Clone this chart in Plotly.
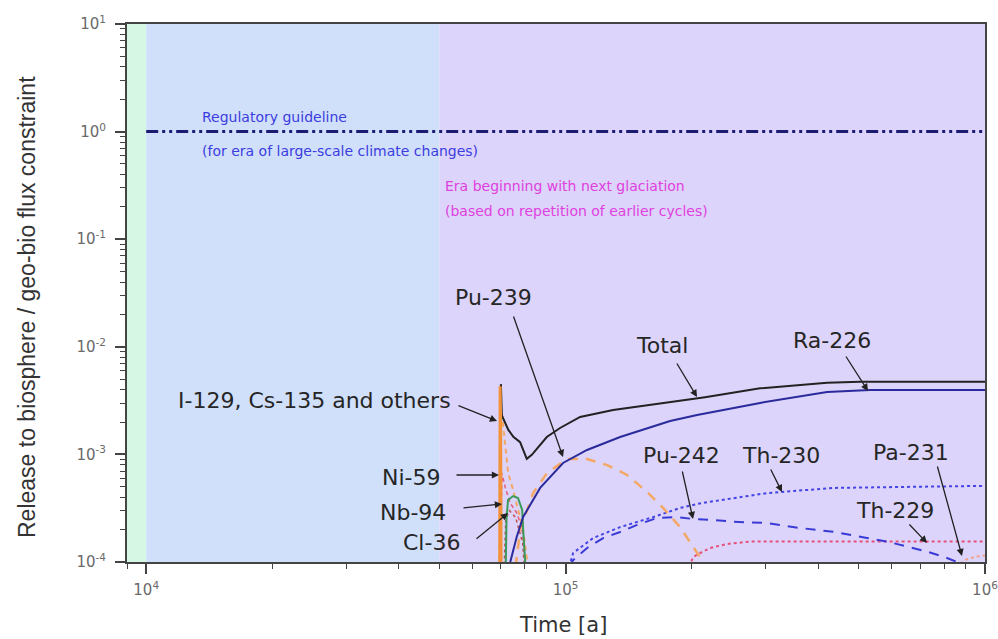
import numpy as np
import plotly.graph_objects as go

# ---------------- data (time in years, release / geo-bio flux constraint) ----------------
total_t = [70100, 70470, 73030, 75060, 77900, 80800, 83070, 86100, 90200, 97000,
           108300, 129800, 156400, 187500, 215000, 290900, 420200, 503500, 1000000]
total_v = [4.5e-3, 2.3e-3, 1.69e-3, 1.46e-3, 1.30e-3, 9.1e-4, 9.9e-4, 1.17e-3, 1.45e-3, 1.76e-3,
           2.23e-3, 2.59e-3, 2.88e-3, 3.15e-3, 3.4e-3, 4.11e-3, 4.63e-3, 4.74e-3, 4.74e-3]

ra226_t = [73800, 76450, 79200, 82300, 86960, 98600, 112500, 134900, 177500, 205800, 290900,
           420200, 532000, 1000000]
ra226_v = [1.0e-4, 1.71e-4, 2.62e-4, 3.39e-4, 4.88e-4, 8.32e-4, 1.10e-3, 1.45e-3, 2.04e-3, 2.32e-3,
           3.01e-3, 3.80e-3, 3.97e-3, 3.97e-3]

i129_t = [69600, 69800, 70000, 70200]
i129_v = [5e-5, 4.3e-3, 2.0e-3, 5e-5]

others_t = [70470, 71760, 72950, 74980, 79200, 80950, 81500]
others_v = [2.43e-3, 1.17e-3, 6.7e-4, 4.67e-4, 1.98e-4, 1.04e-4, 5e-5]

pu239_t = [76000, 77900, 83650, 90300, 100800, 112500, 125600, 140200, 156400, 170800, 187500,
           201400, 211500, 215000]
pu239_v = [9e-5, 1.98e-4, 4.37e-4, 6.71e-4, 9.06e-4, 9.06e-4, 7.96e-4, 6.44e-4, 4.48e-4, 3.18e-4,
           2.11e-4, 1.38e-4, 1.04e-4, 9e-5]

ni59_t = [69900, 70470, 71760, 73760, 76500, 78630, 80070, 80500]
ni59_v = [5e-5, 6.7e-4, 4.98e-4, 3.53e-4, 2.85e-4, 2.11e-4, 1.04e-4, 5e-5]

nb94_t = [71800, 72300, 72900, 75000, 77000, 78790, 79220, 80070, 80300]
nb94_v = [5e-5, 2.5e-4, 3.77e-4, 4.1e-4, 3.93e-4, 3.04e-4, 1.98e-4, 1.04e-4, 5e-5]

cl36_t = [71000, 72000, 73500, 76000, 79000, 80500]
cl36_v = [5e-5, 2.5e-4, 3.0e-4, 2.6e-4, 1.5e-4, 5e-5]

pu242_t = [102000, 104200, 112500, 122900, 134900, 148100, 165200, 184400, 201400, 224700, 250800,
           302200, 362200, 434300, 523200, 584000, 651900, 727400, 811900, 857700, 880000]
pu242_v = [9e-5, 1.04e-4, 1.35e-4, 1.67e-4, 1.90e-4, 2.21e-4, 2.57e-4, 2.62e-4, 2.51e-4, 2.46e-4,
           2.37e-4, 2.30e-4, 2.07e-4, 1.91e-4, 1.67e-4, 1.55e-4, 1.39e-4, 1.25e-4, 1.09e-4, 1.0e-4, 9e-5]

th230_t = [102000, 104200, 116300, 134900, 162100, 187500, 210900, 250800, 302200, 328100, 434300,
           627300, 1000000]
th230_v = [9e-5, 1.21e-4, 1.67e-4, 2.11e-4, 2.62e-4, 3.18e-4, 3.53e-4, 3.93e-4, 4.37e-4, 4.48e-4,
           4.88e-4, 4.98e-4, 5.1e-4]

th229_t = [197000, 201400, 209200, 221000, 242700, 275400, 362200, 1000000]
th229_v = [9e-5, 1.11e-4, 1.21e-4, 1.35e-4, 1.47e-4, 1.55e-4, 1.55e-4, 1.55e-4]

pa231_t = [850000, 900000, 950000, 1000000]
pa231_v = [9e-5, 1.05e-4, 1.12e-4, 1.15e-4]

guide_t = [1e4, 1e6]
guide_v = [1.0, 1.0]

era_bounds = [9000, 1e4, 5e4, 1e6]
x_ticks = [1e4, 1e5, 1e6]
x_ticktext = ["10<sup>4</sup>", "10<sup>5</sup>", "10<sup>6</sup>"]
y_ticks = [1e-4, 1e-3, 1e-2, 1e-1, 1e0, 1e1]
y_ticktext = ["10<sup>-4</sup>", "10<sup>-3</sup>", "10<sup>-2</sup>", "10<sup>-1</sup>",
              "10<sup>0</sup>", "10<sup>1</sup>"]

# ---------------- figure ----------------
fig = go.Figure()

era_colors = ["rgb(214,247,228)", "rgb(208,224,250)", "rgb(220,212,250)"]
for i in range(3):
    fig.add_shape(type="rect", xref="x", yref="paper", x0=era_bounds[i], x1=era_bounds[i + 1],
                  y0=0, y1=1, fillcolor=era_colors[i], line_width=0, layer="below")


def line(x, y, color, width=2.0, dash="solid"):
    fig.add_trace(go.Scatter(x=x, y=y, mode="lines", line=dict(color=color, width=width, dash=dash),
                             hoverinfo="skip", showlegend=False))


line(guide_t, guide_v, "#1c1c72", 3, "12px,4px,3px,4px,3px,4px")
line(pa231_t, pa231_v, "#f2a08a", 2, "dot")
line(th229_t, th229_v, "#e6507a", 2, "dot")
line(pu242_t, pu242_v, "#3a3ad6", 2, "10px,8px")
line(th230_t, th230_v, "#4444e6", 2, "dot")
line(pu239_t, pu239_v, "#f4a866", 2.5, "10px,8px")
line(others_t, others_v, "#f4a866", 2, "5px,4px")
line(cl36_t, cl36_v, "#c05050", 1.5, "dot")
line(ni59_t, ni59_v, "#e4607a", 1.5, "4px,3px")
line(nb94_t, nb94_v, "#3a9a5a", 2)
line(ra226_t, ra226_v, "#2a2a9c", 2)
line(total_t, total_v, "#222222", 2)
line(i129_t, i129_v, "#f2923a", 3)

# ---------------- annotations (pixel layout helpers) ----------------
X0L = np.log10(9000)


def xl(px):
    return X0L + (px - 127) / 858 * (6 - X0L)


def yl(py):
    return -4 + (562 - py) / 538 * 5


arrows = [  # (start_px, start_py, tip_px, tip_py)
    (676, 362, 697, 397),
    (845, 355, 868, 391),
    (513, 315, 563, 457),
    (457, 405, 497, 421),
    (455, 475, 499, 475),
    (462, 508, 502, 504),
    (475, 540, 508, 513),
    (682, 470, 693, 519),
    (770, 468, 782, 492),
    (937, 465, 962, 556),
    (908, 523, 927, 543),
]
for sx, sy, tx, ty in arrows:
    fig.add_annotation(x=xl(tx), y=yl(ty), xref="x", yref="y", ax=sx - tx, ay=sy - ty,
                       text="", showarrow=True, arrowhead=2, arrowsize=1.1, arrowwidth=1.3,
                       arrowcolor="#222")

lab_font = dict(family="DejaVu Sans", size=22, color="#262626")
labels = [  # (text, px, py, anchor)
    ("Total", 662, 345, "center"),
    ("Ra-226", 832, 340, "center"),
    ("Pu-239", 493, 297, "center"),
    ("I-129, Cs-135 and others", 453, 400, "right"),
    ("Ni-59", 443, 477, "right"),
    ("Nb-94", 448, 512, "right"),
    ("Cl-36", 462, 542, "right"),
    ("Pu-242", 681, 455, "center"),
    ("Th-230", 781, 455, "center"),
    ("Pa-231", 911, 452, "center"),
    ("Th-229", 895, 510, "center"),
]
for t, px, py, anc in labels:
    fig.add_annotation(x=xl(px), y=yl(py), xref="x", yref="y", text=t, showarrow=False,
                       xanchor=anc, yanchor="middle", font=lab_font)

blue_font = dict(family="DejaVu Sans", size=14, color="#3c3ce0")
mag_font = dict(family="DejaVu Sans", size=14, color="#e040e0")
notes = [
    ("Regulatory guideline", 200, 117, blue_font),
    ("(for era of large-scale climate changes)", 200, 151, blue_font),
    ("Era beginning with next glaciation", 443, 186, mag_font),
    ("(based on repetition of earlier cycles)", 443, 211, mag_font),
]
for t, px, py, f in notes:
    fig.add_annotation(x=xl(px), y=yl(py), xref="x", yref="y", text=t, showarrow=False,
                       xanchor="left", yanchor="middle", font=f)

# axis titles
fig.add_annotation(x=(27 - 127) / 858, y=(562 - 307) / 538, xref="paper", yref="paper",
                   xanchor="center", yanchor="middle",
                   text="Release to biosphere / geo-bio flux constraint", textangle=-90,
                   showarrow=False, font=dict(family="Liberation Sans", size=23, color="#333"))
fig.add_annotation(x=(563 - 127) / 858, y=(562 - 625) / 538, xref="paper", yref="paper",
                   xanchor="center", yanchor="middle",
                   text="Time [a]", showarrow=False,
                   font=dict(family="DejaVu Sans", size=21, color="#333"))

x_minor = [m * 10 ** e for e in (3, 4, 5) for m in range(2, 10) if 9000 <= m * 10 ** e < 1e6]
y_minor = [m * 10 ** e for e in (-4, -3, -2, -1, 0) for m in range(2, 10)]
tick_font = dict(family="DejaVu Sans", size=15, color="#6a6a6a")

fig.update_xaxes(type="log", range=[X0L, 6], showgrid=False, zeroline=False, showline=True,
                 linecolor="#444", linewidth=2, mirror=True, ticks="outside", ticklen=10,
                 tickwidth=1.5, tickcolor="#444", tickmode="array", tickvals=x_ticks,
                 ticktext=x_ticktext, tickfont=tick_font, ticklabelstandoff=3,
                 ticklabeloverflow="allow", automargin=False,
                 minor=dict(tickmode="array", tickvals=x_minor, ticks="outside", ticklen=5,
                            tickwidth=1.2, tickcolor="#444", showgrid=False))
fig.update_yaxes(type="log", range=[-4, 1], showgrid=False, zeroline=False, showline=True,
                 linecolor="#444", linewidth=2, mirror=True, ticks="outside", ticklen=10,
                 tickwidth=1.5, tickcolor="#444", tickmode="array", tickvals=y_ticks,
                 ticktext=y_ticktext, tickfont=tick_font, ticklabelstandoff=6,
                 ticklabeloverflow="allow", automargin=False,
                 minor=dict(tickmode="array", tickvals=y_minor, ticks="outside", ticklen=5,
                            tickwidth=1.2, tickcolor="#444", showgrid=False))

fig.update_layout(width=998, height=639, margin=dict(l=127, r=13, t=24, b=77, autoexpand=False),
                  paper_bgcolor="white", plot_bgcolor="white", showlegend=False)

fig.write_html("out.html")
